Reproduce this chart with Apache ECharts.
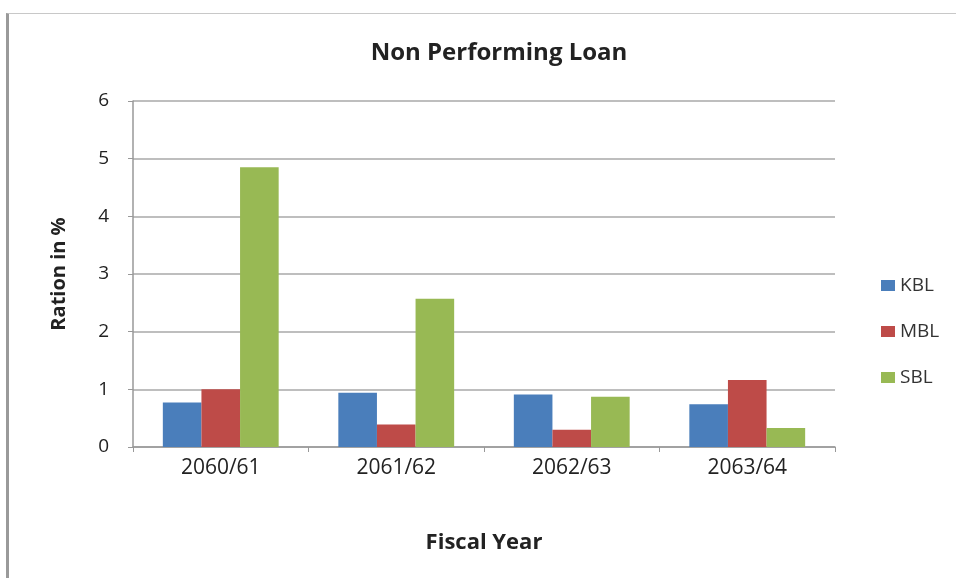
<!DOCTYPE html>
<html>
<head>
<meta charset="utf-8">
<script src="https://cdn.jsdelivr.net/npm/echarts@6/dist/echarts.min.js"></script>
<style>
  html, body { margin: 0; padding: 0; background: #ffffff; }
  #frame { position: absolute; left: 6px; top: 13px; width: 950px; height: 565px;
           border-left: 3px solid #9a9a9a; border-top: 1px solid #c8c8c8; box-sizing: border-box; }
  #chart { position: absolute; left: 0; top: 0; width: 959px; height: 581px; }
</style>
</head>
<body>
<div id="frame"></div>
<div id="chart"></div>
<script>
// Fiscal years on the category axis
const fiscalYears = ['2060/61', '2061/62', '2062/63', '2063/64'];
// Non performing loan ratio (%) for each bank
const kbl = [0.77, 0.94, 0.91, 0.74];
const mbl = [1.00, 0.39, 0.30, 1.16];
const sbl = [4.85, 2.57, 0.87, 0.33];

const font = '"Open Sans", Lato, sans-serif';
const chart = echarts.init(document.getElementById('chart'), null, { renderer: 'canvas' });

function bar(name, data, color) {
  return {
    name: name, type: 'bar', data: data,
    barGap: '0%', barCategoryGap: '34%',
    itemStyle: { color: color }
  };
}

chart.setOption({
  animation: false,
  backgroundColor: 'transparent',
  title: {
    text: 'Non Performing Loan',
    left: 494, top: 36, textAlign: 'center',
    textStyle: { fontFamily: font, fontSize: 24, fontWeight: 'bold', color: '#222' }
  },
  legend: {
    orient: 'vertical', left: 876, top: 271, itemGap: 27,
    itemWidth: 14, itemHeight: 11, icon: 'rect',
    textStyle: { fontFamily: font, fontSize: 19, color: '#333' }
  },
  grid: { left: 133, right: 124, top: 101, bottom: 134 },
  xAxis: {
    type: 'category', data: fiscalYears,
    name: 'Fiscal Year', nameLocation: 'middle', nameGap: 85,
    nameTextStyle: { fontFamily: font, fontSize: 22, fontWeight: 'bold', color: '#222' },
    axisLine: { lineStyle: { color: '#999', width: 1.5 } },
    axisTick: { show: true, length: 5, lineStyle: { color: '#999' } },
    axisLabel: { fontFamily: font, fontSize: 21, color: '#222', margin: 11 }
  },
  yAxis: {
    type: 'value', min: 0, max: 6, interval: 1,
    name: 'Ration in %', nameLocation: 'middle', nameGap: 64, nameRotate: 90,
    nameTextStyle: { fontFamily: font, fontSize: 20, fontWeight: 'bold', color: '#222' },
    axisLine: { show: true, lineStyle: { color: '#999', width: 1.5 } },
    axisTick: { show: true, length: 5, lineStyle: { color: '#999' } },
    axisLabel: { fontFamily: font, fontSize: 19, color: '#222', margin: 24 },
    splitLine: { lineStyle: { color: '#a8a8a8', width: 1.5 } }
  },
  series: [
    bar('KBL', kbl, '#4a7ebb'),
    bar('MBL', mbl, '#be4b48'),
    bar('SBL', sbl, '#98b954')
  ]
});
</script>
</body>
</html>
